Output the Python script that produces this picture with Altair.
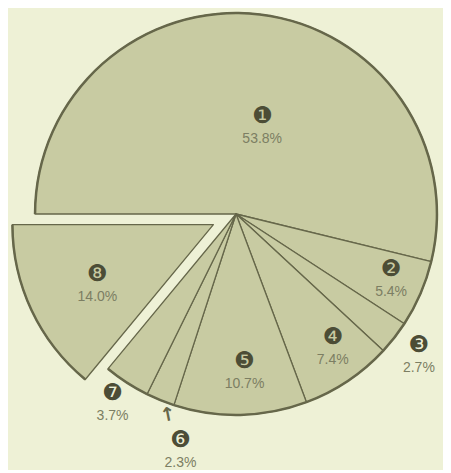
import math
import altair as alt
import pandas as pd

# ---- data ----
slice_ids = [1, 2, 3, 4, 5, 6, 7, 8]
glyphs = ["❶", "❷", "❸", "❹", "❺", "❻", "❼", "❽"]
shares = [53.8, 5.4, 2.7, 7.4, 10.7, 2.3, 3.7, 14.0]
pct_text = ["53.8%", "5.4%", "2.7%", "7.4%", "10.7%", "2.3%", "3.7%", "14.0%"]

# ---- layout / style (not data) ----
label_radius = [90, 169, 232, 166, 159, 244, 227, 131]
label_nudge = [2.8, 0, 0, -0.5, -0.5, -2.5, 0, -0.7]
EXPLODED_ID = 8
CX, CY = 228, 206
R = 201
EXPLODE = 25
BG = "#eef1d6"
FILL = "#c8cba2"
LINE = "#66674a"
DARK = "#4c4d36"
TXT = "#7c7e63"

df = pd.DataFrame({
    "id": slice_ids, "glyph": glyphs, "share": shares, "pct": pct_text,
    "lab_r": label_radius, "nudge": label_nudge,
})
df["s1"] = df["share"].cumsum()
df["s0"] = df["s1"] - df["share"]
df["lab"] = (df["s0"] + df["s1"]) / 2 + df["nudge"]

theta_scale = alt.Scale(domain=[0, 100], range=[1.5 * math.pi, 3.5 * math.pi])

row = df[df.id == EXPLODED_ID].iloc[0]
ang = 1.5 * math.pi + (row.s0 + row.s1) / 2 / 100 * 2 * math.pi
EX, EY = CX + EXPLODE * math.sin(ang), CY - EXPLODE * math.cos(ang)

base = alt.Chart(df)


def arc_enc(cx, cy):
    return dict(
        theta=alt.Theta("s0:Q", scale=theta_scale, stack=False),
        theta2="s1:Q",
        x=alt.value(cx), y=alt.value(cy),
    )


def text_enc(cx, cy, field):
    return dict(
        theta=alt.Theta("lab:Q", scale=theta_scale, stack=False),
        radius=alt.Radius("lab_r:Q", scale=None),
        text=alt.Text(field + ":N"),
        x=alt.value(cx), y=alt.value(cy),
    )


main_f = f"datum.id != {EXPLODED_ID}"
ex_f = f"datum.id == {EXPLODED_ID}"

layers = []
for flt, cx, cy in [(main_f, CX, CY), (ex_f, EX, EY)]:
    b = base.transform_filter(flt)
    layers.append(b.mark_arc(radius=R, fill=FILL, stroke=LINE, strokeWidth=1.3,
                             strokeJoin="round").encode(**arc_enc(cx, cy)))
for flt, cx, cy in [(main_f, CX, CY), (ex_f, EX, EY)]:
    b = base.transform_filter(flt)
    layers.append(b.mark_arc(radius=R + 1.2, radius2=R - 1.3, fill=LINE)
                  .encode(**arc_enc(cx, cy)))
for flt, cx, cy in [(main_f, CX, CY), (ex_f, EX, EY)]:
    b = base.transform_filter(flt)
    layers.append(b.mark_text(font="DejaVu Sans", fontSize=23, color=DARK, dy=-12,
                              baseline="middle").encode(**text_enc(cx, cy, "glyph")))
    layers.append(b.mark_text(font="Liberation Sans", fontSize=14, color=TXT, dy=11,
                              baseline="middle").encode(**text_enc(cx, cy, "pct")))

arrow = (
    base.transform_filter("datum.id == 6")
    .transform_calculate(apos="datum.s0 + 0.2")
    .mark_text(text="↑", font="DejaVu Sans", fontSize=19, fontWeight="bold",
               color=LINE, angle=349, radius=212, baseline="middle")
    .encode(theta=alt.Theta("apos:Q", scale=theta_scale, stack=False),
            x=alt.value(CX), y=alt.value(CY))
)
layers.append(arrow)

chart = (
    alt.layer(*layers)
    .properties(width=435, height=457, padding=0, background=BG)
    .configure_view(strokeWidth=0)
)
chart.save("out.html", embed_options={"renderer": "svg", "actions": False})
